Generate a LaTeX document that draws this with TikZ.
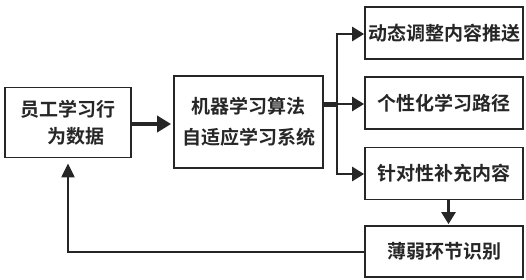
\documentclass[tikz,border=0pt]{standalone}
\usepackage{fontspec}
\newfontfamily\cjk{Noto Sans CJK SC}[BoldFont={Noto Sans CJK SC Bold}]
\usetikzlibrary{arrows.meta,calc}
\definecolor{ink}{HTML}{262626}
\begin{document}
\begin{tikzpicture}[x=1pt,y=-1pt,
  box/.style={draw=ink,line width=1.8pt,inner sep=0pt,align=center,text=ink,
    font=\cjk\bfseries\fontsize{19}{27}\selectfont},
  arr/.style={draw=ink,line width=2.6pt,-{Triangle[length=12pt,width=14pt]}},
  thickarr/.style={draw=ink,line width=4pt,-{Triangle[length=14pt,width=16pt]}},
  fb/.style={draw=ink,line width=2.2pt,-{Triangle[length=14pt,width=13pt]}}]
\useasboundingbox (0,0) rectangle (526,279);
\fill[white] (0,0) rectangle (526,279);
% boxes
\node[box,minimum width=126pt,minimum height=70pt] (A) at (68,122.5) {员工学习行\\\hspace*{0.8em}为数据};
\node[box,minimum width=149pt,minimum height=92pt,font=\cjk\bfseries\fontsize{19}{31}\selectfont] (B) at (248.5,122) {机器学习算法\\自适应学习系统};
\node[box,minimum width=158pt,minimum height=52pt] (R1) at (444,33) {动态调整内容推送};
\node[box,minimum width=158pt,minimum height=52pt] (R2) at (444,103) {个性化学习路径};
\node[box,minimum width=158pt,minimum height=52pt] (R3) at (444,173.5) {针对性补充内容};
\node[box,minimum width=158pt,minimum height=51pt] (R4) at (444,251.5) {薄弱环节识别};
% bus
\coordinate (jt) at (337,34);
\coordinate (jm) at (337,104);
\coordinate (jb) at (337,174);
\draw[thickarr,shorten >=2pt] (A.east |- 0,124) -- (B.west |- 0,124);
\draw[draw=ink,line width=5pt] (B.east |- jm) -- (jm);
\draw[draw=ink,line width=2.6pt] (jt) -- (jb);
\draw[arr] ([xshift=-1.3pt]jt) -- (R1.west |- jt);
\draw[arr] (jm) -- (R2.west |- jm);
\draw[arr] ([xshift=-1.3pt]jb) -- (R3.west |- jb);
\draw[arr,shorten >=1pt] ([xshift=4.5pt]R3.south) -- ([xshift=4.5pt]R4.north);
\draw[fb,shorten >=5pt] (R4.west |- 0,252) -| (A.south);
\end{tikzpicture}
\end{document}
